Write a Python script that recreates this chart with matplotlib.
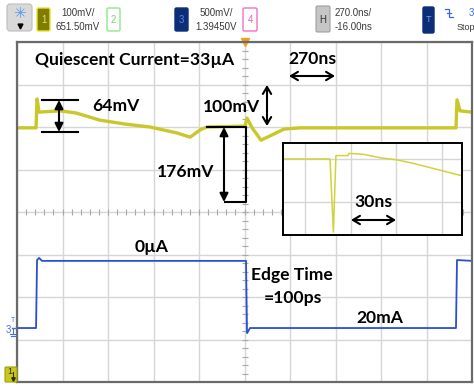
import numpy as np
import matplotlib.pyplot as plt
from matplotlib.lines import Line2D
from matplotlib.patches import FancyBboxPatch, FancyArrowPatch, ArrowStyle
from matplotlib.transforms import IdentityTransform

W, H = 474, 388

# scope settings
time_per_div = 270.0   # ns/div
time_center = -16.0    # ns
zoom_per_div = 30.0    # ns/div in the inset

# channel 1 (yellow, output voltage) - time in ns, level in divisions
ch1_t = [-1366, -1253, -1247, -1235, -1111, -1016, -873, -725, -577, -417, -339,
         -280, -239, -13, -1, 29, 82, 135, 218, 313, 1239, 1245, 1263, 1334]
ch1_y = [1.98, 1.98, 2.66, 2.35, 2.38, 2.33, 2.16, 2.07, 2.00, 1.86, 1.76,
         1.93, 2.00, 2.02, 2.21, 1.98, 1.69, 1.79, 1.95, 1.98, 1.98, 2.64, 2.38, 2.35]

# channel 3 (blue, load current step)
ch3_t = [-1366, -1253, -1247, -1235, -1218, -7, -1, 17, 1239, 1245, 1334]
ch3_y = [-2.73, -2.73, -1.13, -1.08, -1.15, -1.15, -2.85, -2.73, -2.73, -1.13, -1.15]

# zoomed edge (inset)
zoom_t = [-14.5, 16.5, 18.7, 20.4, 28.5, 29.0, 38.2, 49.5, 60.5, 71.2, 82.4, 93.4, 103.5]
zoom_y = [2.00, 2.00, 0.30, 2.08, 2.08, 2.13, 2.11, 2.03, 1.98, 1.90, 1.80, 1.70, 1.61]

PX = IdentityTransform()
ANN = dict(family=['Lato', 'DejaVu Sans'], fontweight='bold', fontsize=12.6, color='black')
HDR = dict(family=['Liberation Sans', 'DejaVu Sans'], fontsize=7, color='#3a3a3a')


def ftext(x, y, s, **kw):
    fig.text(x, H - y, s, transform=PX, **kw)


def fline(xs, ys, **kw):
    fig.add_artist(Line2D(xs, [H - y for y in ys], transform=PX, **kw))


def fbox(x0, y0, x1, y1, r=0, **kw):
    fig.add_artist(FancyBboxPatch((x0, H - y1), x1 - x0, y1 - y0,
                                  boxstyle=f"round,pad=0,rounding_size={r}",
                                  transform=PX, **kw))


def farrow(p0, p1, style, **kw):
    fig.add_artist(FancyArrowPatch((p0[0], H - p0[1]), (p1[0], H - p1[1]),
                                   arrowstyle=style, shrinkA=0, shrinkB=0,
                                   transform=PX, color='black', lw=1.5, **kw))


fig = plt.figure(figsize=(W / 100, H / 100), dpi=100)
fig.patch.set_facecolor('white')

# ---- main screen ----
ax = fig.add_axes([17 / W, 1 - 382 / H, 455 / W, 340 / H])
ax.set_xlim(time_center - 5 * time_per_div, time_center + 5 * time_per_div)
ax.set_ylim(-4, 4)
ax.set_xticks(time_center + np.arange(-5, 6) * time_per_div)
ax.set_yticks(np.arange(-4, 5))
ax.grid(color='#d6d6d6', lw=1)
ax.tick_params(length=0, labelbottom=False, labelleft=False)
for s in ax.spines.values():
    s.set_color('#6a6a6a')
    s.set_linewidth(1.6)

# centre graticule ticks
ax.plot(time_center + np.arange(-25, 26) * time_per_div / 5, np.zeros(51),
        ls='none', marker='|', ms=4, mew=0.8, color='#a8a8a8')
ax.plot(np.full(41, time_center), np.arange(-20, 21) * 0.2,
        ls='none', marker='_', ms=4, mew=0.8, color='#a8a8a8')

ax.plot(ch3_t, ch3_y, color='#2a4fcf', lw=1.3)
ax.plot(ch1_t, ch1_y, color='#c8c82a', lw=2.4, solid_joinstyle='round')

# trigger marker on top
ax.plot([time_center], [4], marker='v', ms=6, color='#f0a020', clip_on=False)

# ---- inset ----
axin = fig.add_axes([283 / W, 1 - 235 / H, 179 / W, 92 / H])
axin.set_xlim(-14.5, 103.5)
axin.set_ylim(0.233, 2.372)
axin.set_xticks(np.arange(0, 4) * zoom_per_div)
axin.set_yticks([1, 2])
axin.grid(color='#d6d6d6', lw=1)
axin.tick_params(length=0, labelbottom=False, labelleft=False)
for s in axin.spines.values():
    s.set_color('black')
    s.set_linewidth(1.4)
axin.plot(zoom_t, zoom_y, color='#d2d23a', lw=1.1)

# ---- annotations ----
ftext(35, 65, 'Quiescent Current=33\u00b5A', **ANN)
ftext(92, 111, '64mV', **ANN)
ftext(203, 112, '100mV', **ANN)
ftext(157, 177, '176mV', **ANN)
ftext(288, 64, '270ns', **ANN)
ftext(354, 207, '30ns', **ANN)
ftext(135, 252, '0\u00b5A', **ANN)
ftext(251, 280, 'Edge Time', **ANN)
ftext(264, 303, '=100ps', **ANN)
ftext(356, 323, '20mA', **ANN)

fline([42, 78], [100, 100], color='black', lw=1.5)
fline([42, 78], [132, 132], color='black', lw=1.5)
farrow((59, 100), (59, 132), ArrowStyle('<|-|>', head_length=5, head_width=2.5))

fline([207, 246, 246, 225], [127, 127, 202, 202], color='black', lw=1.5)
farrow((224, 127), (224, 202), ArrowStyle('<|-|>', head_length=5, head_width=2.5))

farrow((267, 85), (267, 126), ArrowStyle('<->', head_length=5, head_width=3))
farrow((289, 76), (335, 76), ArrowStyle('<->', head_length=5, head_width=3))
farrow((351, 220), (396, 220), ArrowStyle('<->', head_length=5, head_width=3))

# ---- header ----
fbox(7, 4, 32, 31, r=3, fc='#d9d9d9', ec='#bdbdbd', lw=0.8)
ftext(19.5, 14, '\u2733', ha='center', va='center', fontsize=11, color='#5a9ae6',
      family=['DejaVu Sans'])
fig.add_artist(Line2D([19.5], [H - 26], marker='v', ms=3.5, color='black', transform=PX))

fbox(37, 8, 50, 31, r=1.5, fc='#7f7c00', ec='#e6e62c', lw=1)
ftext(43.5, 20, '1', ha='center', va='center', fontsize=7, color='#e8e070',
      family=['Liberation Sans'])
ftext(78, 13, '100mV/', ha='center', va='center', **HDR)
ftext(78, 27, '651.50mV', ha='center', va='center', **HDR)

fbox(107, 8, 120, 31, r=1.5, fc='white', ec='#8ee88e', lw=1)
ftext(113.5, 20, '2', ha='center', va='center', fontsize=7, color='#70d870',
      family=['Liberation Sans'])

fbox(175, 8, 188, 31, r=1.5, fc='#0c2d78', ec='#0c2d78', lw=1)
ftext(181.5, 20, '3', ha='center', va='center', fontsize=7, color='#5a86e6',
      family=['Liberation Sans'])
ftext(216, 13, '500mV/', ha='center', va='center', **HDR)
ftext(216, 27, '1.39450V', ha='center', va='center', **HDR)

fbox(243, 8, 257, 31, r=1.5, fc='white', ec='#f070c8', lw=1)
ftext(250, 20, '4', ha='center', va='center', fontsize=7, color='#e860c0',
      family=['Liberation Sans'])

fbox(316, 6, 330, 32, r=1.5, fc='#c6c6c6', ec='#a0a0a0', lw=0.8)
ftext(323, 20, 'H', ha='center', va='center', fontsize=7, color='#333333',
      family=['Liberation Sans'])
ftext(335, 13, '270.0ns/', ha='left', va='center', **HDR)
ftext(335, 27, '-16.00ns', ha='left', va='center', **HDR)

fbox(423, 7, 434, 33, r=1.5, fc='#0c2d78', ec='#0c2d78', lw=1)
ftext(428.5, 20, 'T', ha='center', va='center', fontsize=6.5, color='#7aa0f0',
      family=['Liberation Sans'])
fline([445, 449, 449, 453], [9, 9, 17, 17], color='#3a6ae0', lw=0.9)
fline([447, 451], [13, 13], color='#3a6ae0', lw=0.9)
ftext(469, 13, '3', ha='left', va='center', fontsize=7, color='#3a6ae0',
      family=['Liberation Sans'])
ftext(457, 28, 'Stop', ha='left', va='center', fontsize=6.5, color='#3a3a3a',
      family=['Liberation Sans'])

# ---- side markers ----
ftext(8, 330, '3', ha='center', va='center', fontsize=7, color='#4a70d8',
      family=['Liberation Sans'])
ftext(13, 321, 'T', ha='center', va='center', fontsize=5, color='#4a70d8',
      family=['Liberation Sans'])
fline([12, 16], [328, 328], color='#4a70d8', lw=1)
fline([13, 13], [328, 334], color='#4a70d8', lw=0.8)
fline([10, 16], [334, 334], color='#4a70d8', lw=0.8)
fline([11, 15], [336, 336], color='#4a70d8', lw=0.8)

fbox(5, 367, 17, 382, r=1, fc='#c8c820', ec='#a0a000', lw=0.8)
ftext(9.5, 372, '1', ha='center', va='center', fontsize=6.5, color='#303000',
      family=['Liberation Sans'])
fline([13, 13], [372, 380], color='#303000', lw=0.8)
fig.add_artist(Line2D([13], [H - 379], marker='v', ms=2.5, color='#303000', transform=PX))

fig.savefig('out.png', dpi=100)
